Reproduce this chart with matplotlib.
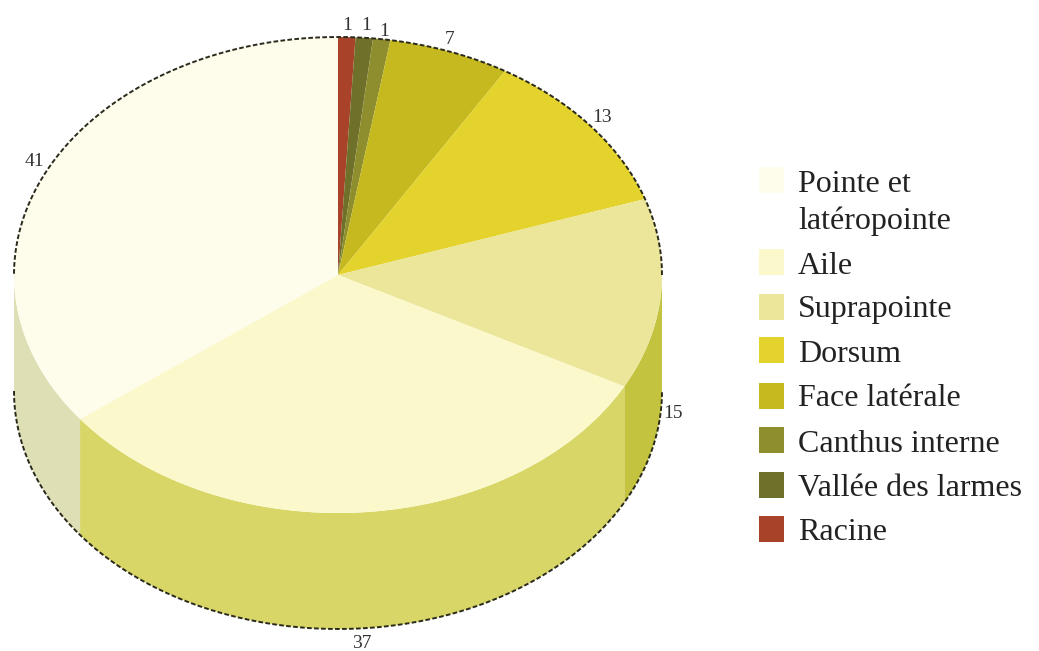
import numpy as np
import matplotlib
matplotlib.use("Agg")
import matplotlib.pyplot as plt
from matplotlib.patches import Rectangle

# values clockwise from the top
names = ["Racine", "Vallée des larmes", "Canthus interne", "Face latérale",
         "Dorsum", "Suprapointe", "Aile", "Pointe et\nlatéropointe"]
values = [1, 1, 1, 7, 13, 15, 37, 41]
top_colors = ["#a8432a", "#6f7029", "#8f8e2e", "#c6b91f",
              "#e4d32c", "#ece69a", "#fbf9cb", "#fefdec"]
wall_colors = ["#7a3a20", "#55561e", "#6b6b22", "#98941a",
               "#aeaa22", "#c4c33f", "#d8d666", "#dfdfb6"]
legend_order = [7, 6, 5, 4, 3, 2, 1, 0]
legend_y = [203, 266, 310, 354, 399, 444, 489, 533]
box_y = [167, 249, 294, 337, 383, 427, 472, 516]

# value labels as placed in the picture (pixels)
label_text = [1, 1, 1, 7, 13, 15, 37, 41]
label_x = [347, 366, 384, 450, 602, 673, 362, 34]
label_y = [26, 26, 31, 40, 118, 414, 643, 162]

W, H = 1039, 651
cx, cy, rx, ry = 338, 275, 324, 238
depth = 116 / ry

plt.rcParams["font.family"] = ["Liberation Serif", "DejaVu Serif"]
fig = plt.figure(figsize=(W / 100, H / 100), dpi=100)
ax = fig.add_axes([0, 0, 1, 1])

wedges, _ = ax.pie(values, startangle=90, counterclock=False, colors=top_colors,
                   wedgeprops={"linewidth": 0, "zorder": 3})
ax.set_aspect("auto")
ax.set_xlim(-cx / rx, (W - cx) / rx)
ax.set_ylim(-(H - cy) / ry, cy / ry)
ax.axis("off")

# side wall, only the part facing the viewer
for w, c in zip(wedges, wall_colors):
    t1 = w.theta1 % 360
    t2 = t1 + (w.theta2 - w.theta1)
    if t2 <= 180 or t1 >= 360:
        continue
    t = np.radians(np.linspace(max(t1, 180), min(t2, 360), 120))
    ax.fill(np.r_[np.cos(t), np.cos(t[::-1])],
            np.r_[np.sin(t), np.sin(t[::-1]) - depth],
            color=c, lw=0, zorder=2)

# dashed rim
dash = (0, (2.4, 1.2))
t = np.radians(np.linspace(0, 180, 400))
ax.plot(np.cos(t), np.sin(t), color="#2a2a1c", lw=1.4, ls=dash, zorder=4)
t = np.radians(np.linspace(180, 360, 400))
ax.plot(np.cos(t), np.sin(t) - depth, color="#2a2a1c", lw=1.4, ls=dash, zorder=4)


def px(x, y):
    return x / W, 1 - y / H


for v, x, y in zip(label_text, label_x, label_y):
    fig.text(*px(x, y), str(v), fontsize=14, color="#333333", ha="center", va="center")

for i, y, b in zip(legend_order, legend_y, box_y):
    fx, fy = px(759, b + 26)
    fig.add_artist(Rectangle((fx, fy), 25 / W, 26 / H, transform=fig.transFigure,
                             facecolor=top_colors[i], edgecolor="none"))
    fig.text(*px(798, y), names[i], fontsize=23, color="#222222", ha="left",
             va="center", linespacing=1.33)

fig.savefig("out.png", dpi=100)
